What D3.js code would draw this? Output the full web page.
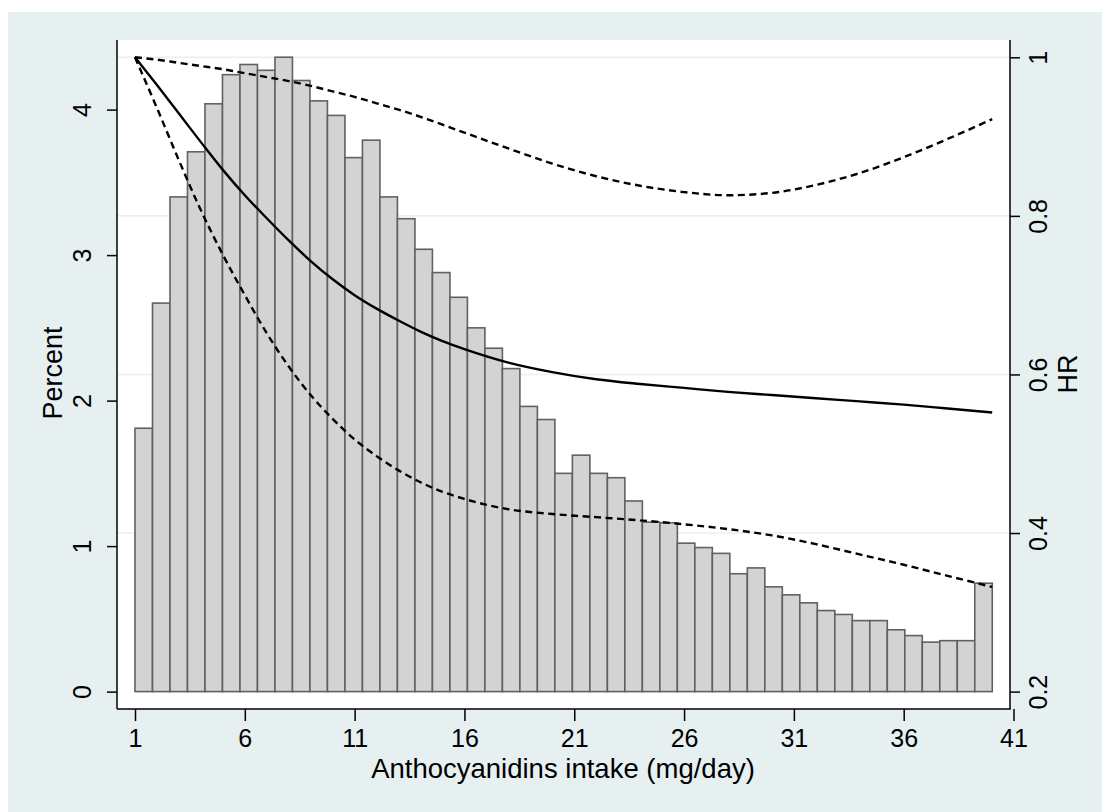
<!DOCTYPE html>
<html>
<head>
<meta charset="utf-8">
<script src="https://cdn.jsdelivr.net/npm/d3@7"></script>
<style>
  html, body { margin: 0; padding: 0; background: #ffffff; }
  svg { display: block; }
  text { font-family: "Liberation Sans", Arial, Helvetica, sans-serif; fill: #000; }
</style>
</head>
<body>
<svg id="chart" width="1110" height="812"></svg>
<script>
// ---- Data ----
const binStart = 1;
const binWidth = 0.7966;
const percent = [1.81, 2.67, 3.40, 3.71, 4.04, 4.24, 4.31, 4.27, 4.36, 4.20,
                 4.06, 3.96, 3.67, 3.79, 3.40, 3.25, 3.04, 2.88, 2.71, 2.50,
                 2.36, 2.22, 1.96, 1.87, 1.50, 1.625, 1.50, 1.47, 1.31, 1.165,
                 1.16, 1.02, 0.99, 0.95, 0.81, 0.85, 0.72, 0.665, 0.61, 0.557,
                 0.53, 0.488, 0.488, 0.425, 0.385, 0.34, 0.35, 0.35, 0.745];
const hrX    = [1, 2, 3, 4, 5, 6, 7, 8, 9, 10, 11, 12, 13, 14, 15, 16, 18, 20, 22, 24, 26, 28, 30, 32, 34, 36, 38, 40.03];
const hr     = [1.0, 0.965, 0.929, 0.893, 0.858, 0.826, 0.797, 0.769, 0.743, 0.720, 0.700, 0.683, 0.668, 0.654, 0.642, 0.632, 0.615, 0.603, 0.594, 0.588, 0.583, 0.578, 0.574, 0.570, 0.566, 0.562, 0.557, 0.552];
const hrUpper= [1.0, 0.997, 0.993, 0.989, 0.985, 0.980, 0.975, 0.970, 0.964, 0.957, 0.950, 0.942, 0.934, 0.925, 0.915, 0.905, 0.885, 0.866, 0.850, 0.838, 0.830, 0.826, 0.829, 0.839, 0.854, 0.874, 0.897, 0.922];
const hrLower= [1.0, 0.936, 0.870, 0.807, 0.751, 0.700, 0.652, 0.610, 0.574, 0.544, 0.518, 0.497, 0.479, 0.464, 0.452, 0.443, 0.430, 0.424, 0.420, 0.416, 0.411, 0.405, 0.397, 0.386, 0.373, 0.360, 0.346, 0.332];
const xTicks = [1, 6, 11, 16, 21, 26, 31, 36, 41];
const yLeftTicks = [0, 1, 2, 3, 4];
const yRightTicks = [0.2, 0.4, 0.6, 0.8, 1];
const gridTicks = [0.4, 0.6, 0.8, 1];
const xTitle = "Anthocyanidins intake (mg/day)";
const yLeftTitle = "Percent";
const yRightTitle = "HR";

// ---- Layout ----
const svg = d3.select("#chart");
const plot = { left: 117, right: 1010, top: 40, bottom: 709 };
const bgColor = "#e6f0f1";
const gridColor = "#e6f0f1";

svg.append("rect").attr("x", 8).attr("y", 12).attr("width", 1094).attr("height", 800).attr("fill", bgColor);
svg.append("rect").attr("x", plot.left).attr("y", plot.top)
   .attr("width", plot.right - plot.left).attr("height", plot.bottom - plot.top).attr("fill", "#ffffff");

const x = d3.scaleLinear().domain([1, 41]).range([135, 1013.5]);
const yL = d3.scaleLinear().domain([0, 4]).range([691.6, 109.6]);
const yR = d3.scaleLinear().domain([0.2, 1]).range([691.6, 57.3]);

// gridlines
svg.append("g").selectAll("line").data(gridTicks).join("line")
  .attr("x1", plot.left).attr("x2", plot.right)
  .attr("y1", d => yR(d)).attr("y2", d => yR(d))
  .attr("stroke", gridColor).attr("stroke-width", 1.6);

// bars
const bars = percent.map((v, i) => ({ x0: binStart + i * binWidth, x1: binStart + (i + 1) * binWidth, v }));
svg.append("g").selectAll("rect").data(bars).join("rect")
  .attr("x", d => x(d.x0))
  .attr("width", d => x(d.x1) - x(d.x0))
  .attr("y", d => yL(d.v))
  .attr("height", d => yL(0) - yL(d.v))
  .attr("fill", "#d3d3d3")
  .attr("stroke", "#616161")
  .attr("stroke-width", 1.6);

// curves
const line = d3.line().x(d => x(d[0])).y(d => yR(d[1])).curve(d3.curveMonotoneX);
function draw(vals, dash) {
  svg.append("path").datum(hrX.map((xv, i) => [xv, vals[i]]))
    .attr("d", line).attr("fill", "none").attr("stroke", "#000")
    .attr("stroke-width", 2.4).attr("stroke-dasharray", dash);
}
draw(hrUpper, "7,4.5");
draw(hrLower, "7,4.5");
draw(hr, null);

// axes
const axisColor = "#000";
function styleAxis(g) {
  g.select(".domain").remove();
  g.selectAll(".tick line").attr("stroke", axisColor).attr("stroke-width", 1.5);
  g.selectAll(".tick text").style("font-size", "25px").attr("fill", "#000");
}
const gx = svg.append("g").attr("transform", `translate(0,${plot.bottom})`)
  .call(d3.axisBottom(x).tickValues(xTicks).tickSize(12).tickFormat(d3.format("d")));
styleAxis(gx);
gx.selectAll(".tick text").attr("y", 38).attr("dy", null);

const gl = svg.append("g").attr("transform", `translate(${plot.left},0)`)
  .call(d3.axisLeft(yL).tickValues(yLeftTicks).tickSize(10).tickFormat(d3.format("d")));
styleAxis(gl);
gl.selectAll(".tick text").attr("x", 0).attr("dy", null).attr("y", 0)
  .attr("text-anchor", "middle").attr("transform", "translate(-26,0) rotate(-90)");

const gr = svg.append("g").attr("transform", `translate(${plot.right},0)`)
  .call(d3.axisRight(yR).tickValues(yRightTicks).tickSize(10).tickFormat(d => d3.format("")(+d.toFixed(1))));
styleAxis(gr);
gr.selectAll(".tick text").attr("x", 0).attr("dy", null).attr("y", 0)
  .attr("text-anchor", "middle").attr("transform", "translate(37,0) rotate(-90)");

// axis lines
svg.append("line").attr("x1", plot.left).attr("x2", plot.right + 0.75).attr("y1", plot.bottom).attr("y2", plot.bottom)
  .attr("stroke", axisColor).attr("stroke-width", 1.5);
svg.append("line").attr("x1", plot.left).attr("x2", plot.left).attr("y1", plot.top).attr("y2", plot.bottom)
  .attr("stroke", axisColor).attr("stroke-width", 1.5);
svg.append("line").attr("x1", plot.right).attr("x2", plot.right).attr("y1", plot.top).attr("y2", plot.bottom)
  .attr("stroke", axisColor).attr("stroke-width", 1.5);

// titles
svg.append("text").attr("x", 563).attr("y", 778).attr("text-anchor", "middle")
  .style("font-size", "27.5px").text(xTitle);
svg.append("text").attr("transform", "translate(62,373) rotate(-90)").attr("text-anchor", "middle")
  .style("font-size", "27px").text(yLeftTitle);
svg.append("text").attr("transform", "translate(1077,374) rotate(-90)").attr("text-anchor", "middle")
  .style("font-size", "27px").text(yRightTitle);
</script>
</body>
</html>
